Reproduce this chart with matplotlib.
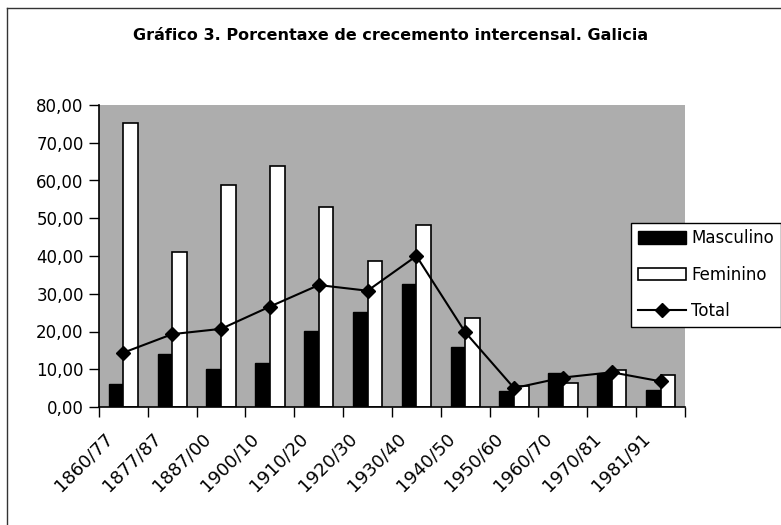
import matplotlib.pyplot as plt
import numpy as np
from matplotlib.lines import Line2D
from matplotlib.transforms import ScaledTranslation

periodos = ["1860/77", "1877/87", "1887/00", "1900/10", "1910/20", "1920/30",
            "1930/40", "1940/50", "1950/60", "1960/70", "1970/81", "1981/91"]
masculino = [6.0, 14.0, 10.0, 11.7, 20.2, 25.2, 32.5, 15.8, 4.3, 9.0, 8.7, 4.5]
feminino = [75.3, 41.1, 58.9, 63.8, 53.1, 38.6, 48.2, 23.6, 5.6, 6.4, 9.8, 8.6]
total = [14.4, 19.3, 20.7, 26.6, 32.3, 30.8, 40.0, 19.8, 5.0, 7.8, 9.2, 6.8]

plt.rcParams['font.family'] = 'DejaVu Sans'

fig = plt.figure(figsize=(7.81, 5.25), dpi=100)
ax = fig.add_axes([99/781, 118/525, 586/781, 302/525])
ax.set_facecolor('#adadad')

x = np.arange(len(periodos))
w = 0.3
ax.bar(x - w/2, masculino, w, color='black', edgecolor='black', linewidth=1, label='Masculino')
ax.bar(x + w/2, feminino, w, color='white', edgecolor='black', linewidth=1.2, label='Feminino')
ax.plot(x, total, color='black', linewidth=1.5, marker='D', markersize=7, label='Total')

ax.set_xlim(-0.5, len(periodos) - 0.5)
ax.set_ylim(0, 80)
ax.set_yticks(range(0, 81, 10))
ax.set_yticklabels([f"{v:.2f}".replace('.', ',') for v in range(0, 81, 10)], fontsize=12)
ax.tick_params(axis='y', length=7, width=1, pad=4)

# marcas entre categorias, etiquetas no centro
ax.set_xticks(np.arange(-0.5, len(periodos), 1), minor=True)
ax.set_xticks(x)
ax.set_xticklabels(periodos, rotation=45, ha='right', rotation_mode='anchor', fontsize=13)
ax.tick_params(axis='x', which='major', length=0, pad=16)
ax.tick_params(axis='x', which='minor', length=7, width=1)
for lab in ax.get_xticklabels():
    lab.set_transform(lab.get_transform() + ScaledTranslation(-20/100, 0, fig.dpi_scale_trans))

for s in ['top', 'right']:
    ax.spines[s].set_visible(False)
ax.spines['left'].set_linewidth(1.2)
ax.spines['bottom'].set_linewidth(1.2)

h, l = ax.get_legend_handles_labels()
orden = [l.index('Masculino'), l.index('Feminino'), l.index('Total')]
leg = ax.legend([h[i] for i in orden], [l[i] for i in orden],
                loc='upper left', bbox_to_anchor=(0.908, 0.61), fontsize=12,
                fancybox=False, framealpha=1, edgecolor='black', borderaxespad=0,
                handlelength=2.9, handleheight=0.8, labelspacing=1.1, handletextpad=0.3)
leg.get_frame().set_linewidth(1)

fig.text(0.5, 1 - 35/525, "Gráfico 3. Porcentaxe de crecemento intercensal. Galicia",
         ha='center', va='center', fontsize=11.5, fontweight='bold')

# marco do grafico
fig.add_artist(Line2D([7/781, 7/781], [0, 1 - 8/525], color='#333333', linewidth=1))
fig.add_artist(Line2D([7/781, 1], [1 - 8/525, 1 - 8/525], color='#333333', linewidth=1))

fig.savefig('out.png', dpi=100)
